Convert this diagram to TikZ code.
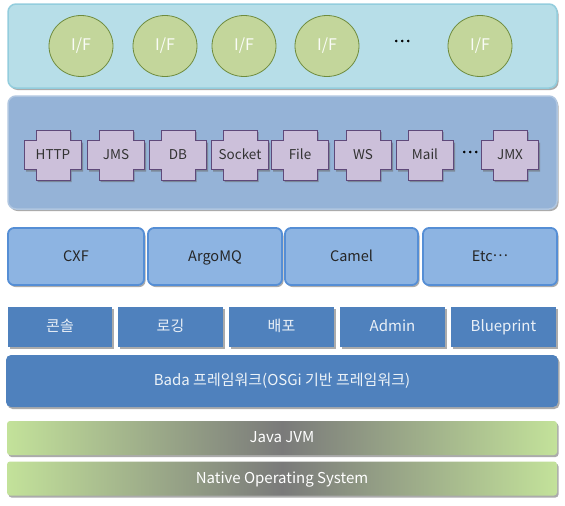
\documentclass[tikz,border=0pt]{standalone}
\usepackage{fontspec}
\setmainfont{Noto Sans CJK KR}
\usetikzlibrary{shadows,shapes.geometric}
\definecolor{toppanel}{HTML}{B7DEE8}
\definecolor{toppanelbd}{HTML}{93CDDD}
\definecolor{ifill}{HTML}{C3D69B}
\definecolor{ibd}{HTML}{6E8B3D}
\definecolor{midpanel}{HTML}{95B3D7}
\definecolor{midpanelbd}{HTML}{B0C6E0}
\definecolor{crossfill}{HTML}{CCC0DA}
\definecolor{crossbd}{HTML}{5F497A}
\definecolor{rowthree}{HTML}{8DB4E2}
\definecolor{rowthreebd}{HTML}{558ED5}
\definecolor{darkblue}{HTML}{4F81BD}
\definecolor{lightgreen}{HTML}{C3E29A}
\definecolor{midgray}{HTML}{7A7A7A}
\tikzset{
  shad/.style={drop shadow={shadow xshift=1.5pt,shadow yshift=-2pt,opacity=0.55,fill=black!60}},
  panelbox/.style={rounded corners=8pt,line width=1.5pt,shad},
  fixtext/.style={text height=11.5pt,text depth=2pt},
  ifnode/.style={ellipse,draw=ibd,fill=ifill,line width=0.8pt,minimum width=64pt,minimum height=61pt,inner sep=0pt,text=white!92!ifill,font=\fontsize{16}{18}\selectfont},
  dotsnode/.style={inner sep=0pt,font=\fontsize{16}{18}\selectfont\addfontfeatures{FakeBold=3}},
  crosstxt/.style={inner sep=0pt,fixtext,text=black!80,font=\fontsize{13.5}{15}\selectfont},
  crossshape/.style={draw=crossbd,fill=crossfill,line width=0.9pt,shad},
  rowthreebox/.style={draw=rowthreebd,fill=rowthree,line width=1.8pt,rounded corners=6pt,shad,fixtext,text=black!85,font=\fontsize{14.5}{16}\selectfont},
  rowfourbox/.style={fill=darkblue,shad,fixtext,text=white!88!darkblue,font=\fontsize{15}{16}\selectfont},
  basebox/.style={rounded corners=5pt,shad,fixtext,font=\fontsize{15}{16}\selectfont},
}
\begin{document}
\begin{tikzpicture}[x=1pt,y=-1pt]
\useasboundingbox (0,0) rectangle (565,506);
% top panel
\draw[panelbox,draw=toppanelbd,fill=toppanel] (8,4) rectangle (557,88);
\node[ifnode] (if1) at (81,46) {I/F};
\node[ifnode] (if2) at (165,46) {I/F};
\node[ifnode] (if3) at (244,46) {I/F};
\node[ifnode] (if4) at (327,46) {I/F};
\node[dotsnode] (ifdots) at (402,41) {…};
\node[ifnode] (if5) at (480,46) {I/F};
% middle panel
\draw[panelbox,draw=midpanelbd,fill=midpanel] (8,96) rectangle (557,209);
\foreach \n/\x/\t in {http/53/HTTP,jms/116/JMS,db/178/DB,socket/240/Socket,file/300/File,ws/363/WS,mail/425/Mail,jmx/510/JMX}{
  \draw[crossshape,shift={(\x,155)}] (-17,-25) -- (17,-25) -- (17,-14.5) -- (28.5,-14.5) -- (28.5,14.5) -- (17,14.5) -- (17,25) -- (-17,25) -- (-17,14.5) -- (-28.5,14.5) -- (-28.5,-14.5) -- (-17,-14.5) -- cycle;
  \node[crosstxt] (\n) at (\x,155) {\t};
}
\node[dotsnode] (crossdots) at (470,152) {…};
% row three
\node[rowthreebox,minimum width=136pt,minimum height=57pt] (cxf) at (76,256.5) {CXF};
\node[rowthreebox,minimum width=134pt,minimum height=57pt] (argo) at (215,256.5) {ArgoMQ};
\node[rowthreebox,minimum width=133pt,minimum height=57pt] (camel) at (351.5,256.5) {Camel};
\node[rowthreebox,minimum width=134pt,minimum height=57pt] (etc) at (490,256.5) {Etc\raisebox{0.3em}{…}};
% row four
\node[rowfourbox,minimum width=104pt,minimum height=40pt] (console) at (60,327) {콘솔};
\node[rowfourbox,minimum width=105pt,minimum height=40pt] (logging) at (170.5,327) {로깅};
\node[rowfourbox,minimum width=105pt,minimum height=40pt] (deploy) at (281.5,327) {배포};
\node[rowfourbox,minimum width=105pt,minimum height=40pt] (admin) at (392.5,327) {Admin};
\node[rowfourbox,minimum width=105pt,minimum height=40pt] (blue) at (503.5,327) {Blueprint};
% bada
\node[basebox,fill=darkblue,text=white!90!darkblue,minimum width=552pt,minimum height=52pt] (bada) at (282,381) {Bada 프레임워크(OSGi 기반 프레임워크)};
% JVM and OS
\node[basebox,left color=lightgreen,right color=lightgreen,middle color=midgray,text=white,minimum width=550pt,minimum height=34pt,rounded corners=3pt] (jvm) at (282,438) {Java JVM};
\node[basebox,left color=lightgreen,right color=lightgreen,middle color=midgray,text=white,minimum width=550pt,minimum height=34pt,rounded corners=3pt] (os) at (282,478.5) {Native Operating System};
\end{tikzpicture}
\end{document}
